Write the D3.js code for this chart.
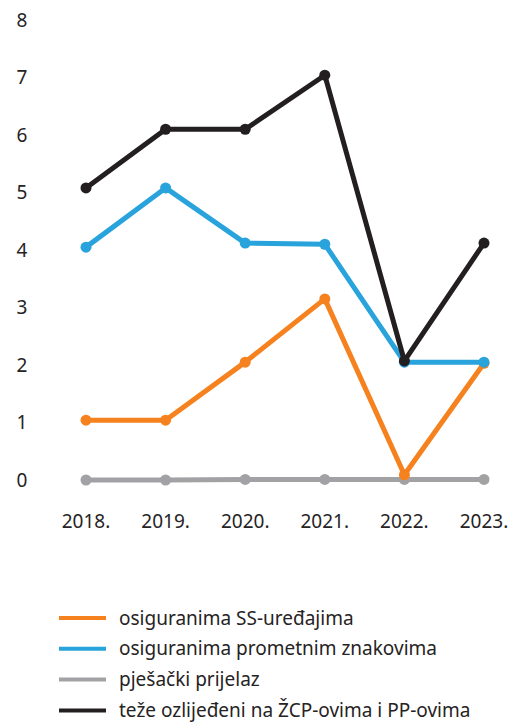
<!DOCTYPE html>
<html>
<head>
<meta charset="utf-8">
<script src="https://cdn.jsdelivr.net/npm/d3@7"></script>
<style>
  body { margin: 0; background: #fff; }
  text { font-family: "Noto Sans", sans-serif; fill: #262324; }
</style>
</head>
<body>
<script>
var width = 517, height = 724

// data
var years = ["2018.", "2019.", "2020.", "2021.", "2022.", "2023."]
var yTicks = [0, 1, 2, 3, 4, 5, 6, 7, 8]
var ssUredaji = [1.04, 1.04, 2.05, 3.15, 0.09, 2.03]
var prometniZnakovi = [4.05, 5.08, 4.12, 4.1, 2.05, 2.05]
var pjesackiPrijelaz = [0, 0, 0.01, 0.01, 0.01, 0.01]
var tezeOzlijedeni = [5.08, 6.1, 6.1, 7.04, 2.07, 4.12]
var seriesNames = ["osiguranima SS-uređajima", "osiguranima prometnim znakovima", "pješački prijelaz", "teže ozlijeđeni na ŽCP-ovima i PP-ovima"]
var seriesColors = ["#f5821f", "#29a3dc", "#a2a2a5", "#231f20"]

var series = [pjesackiPrijelaz, ssUredaji, prometniZnakovi, tezeOzlijedeni]
var seriesIdx = [2, 0, 1, 3] // draw order -> legend index

var svg = d3.select("body").append("svg")
    .attr("width", width)
    .attr("height", height)

var x = d3.scalePoint().domain(years).range([86, 484])
var y = d3.scaleLinear().domain([0, 8]).range([480, 20])

//y axis labels
svg.append("g")
  .selectAll("text")
  .data(yTicks)
  .enter().append("text")
  .attr("x", 22)
  .attr("y", function(d) { return y(d) })
  .attr("dy", "0.35em")
  .attr("text-anchor", "middle")
  .style("font-size", "19px")
  .text(function(d) { return d })

//x axis labels
svg.append("g")
  .selectAll("text")
  .data(years)
  .enter().append("text")
  .attr("x", function(d) { return x(d) })
  .attr("y", 521)
  .attr("dy", "0.35em")
  .attr("text-anchor", "middle")
  .style("font-size", "19px")
  .text(function(d) { return d })

var line = d3.line()
  .x(function(d, i) { return x(years[i]) })
  .y(function(d) { return y(d) })

series.forEach(function(s, k) {
  var c = seriesColors[seriesIdx[k]]
  var g = svg.append("g")
  g.append("path")
    .datum(s)
    .attr("d", line)
    .attr("fill", "none")
    .attr("stroke", c)
    .attr("stroke-width", 5)
    .attr("stroke-linejoin", "round")
  g.selectAll("circle")
    .data(s)
    .enter().append("circle")
    .attr("cx", function(d, i) { return x(years[i]) })
    .attr("cy", function(d) { return y(d) })
    .attr("r", 5.5)
    .attr("fill", c)
})

//legend
var legend = svg.append("g")
  .selectAll("g")
  .data(seriesNames)
  .enter().append("g")
  .attr("transform", function(d, i) { return "translate(0," + (618 + i * 30.8) + ")" })

legend.append("line")
  .attr("x1", 59).attr("x2", 106)
  .attr("stroke-width", 4)
  .attr("stroke", function(d, i) { return seriesColors[i] })

legend.append("text")
  .attr("x", 119)
  .attr("dy", "0.35em")
  .style("font-size", "19px")
  .text(function(d) { return d })
</script>
</body>
</html>
